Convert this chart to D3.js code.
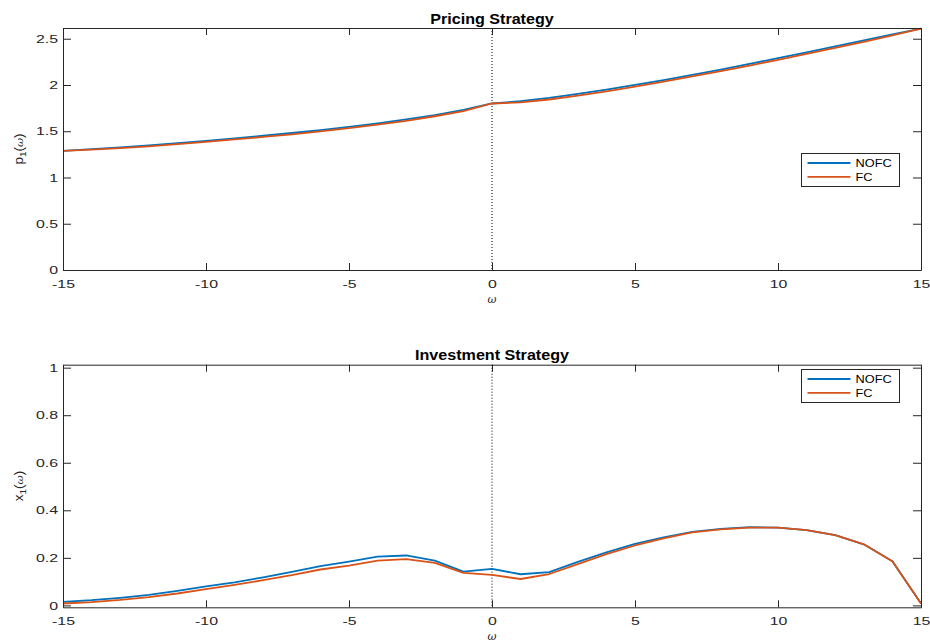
<!DOCTYPE html>
<html><head><meta charset="utf-8">
<script src="https://cdn.jsdelivr.net/npm/d3@7"></script>
<style>
body{margin:0;background:#fff;}
svg{display:block;font-family:"Liberation Sans",Arial,Helvetica,sans-serif;}
</style></head>
<body><svg id="c" width="930" height="644"></svg>
<script>
const omega = d3.range(-15, 16);
const priceNOFC = [1.288,1.306,1.325,1.346,1.370,1.396,1.423,1.451,1.481,1.513,1.548,1.586,1.628,1.675,1.730,1.800,1.825,1.860,1.903,1.950,2.000,2.053,2.109,2.167,2.227,2.290,2.353,2.417,2.481,2.546,2.610];
const priceFC   = [1.288,1.302,1.318,1.337,1.360,1.385,1.411,1.438,1.467,1.499,1.533,1.571,1.613,1.662,1.718,1.800,1.812,1.843,1.884,1.932,1.983,2.036,2.092,2.150,2.210,2.272,2.336,2.401,2.467,2.535,2.610];
const investNOFC = [0.015,0.022,0.032,0.044,0.061,0.080,0.097,0.118,0.141,0.165,0.184,0.205,0.210,0.188,0.142,0.154,0.131,0.140,0.183,0.223,0.259,0.286,0.309,0.322,0.329,0.327,0.317,0.296,0.257,0.186,0.008];
const investFC   = [0.008,0.014,0.023,0.035,0.050,0.068,0.086,0.106,0.127,0.151,0.167,0.188,0.195,0.179,0.137,0.128,0.111,0.132,0.174,0.216,0.252,0.282,0.307,0.320,0.327,0.327,0.317,0.296,0.257,0.186,0.008];
const xTicks = [-15,-10,-5,0,5,10,15];
const priceTicks = [0,0.5,1,1.5,2,2.5];
const investTicks = [0,0.2,0.4,0.6,0.8,1];
const seriesNames = ["NOFC","FC"];
const colors = ["#0072BD","#D95319"];

const svg = d3.select("#c");
const AX = "#262626";

function stretch(sel, f){
  sel.each(function(){
    const w = this.getComputedTextLength();
    d3.select(this).attr("textLength", w*f).attr("lengthAdjust","spacingAndGlyphs");
  });
}

function panel(cfg){
  const x = d3.scaleLinear().domain([-15,15]).range([63,921]);
  const y = d3.scaleLinear().domain(cfg.ydom).range([cfg.bottom, cfg.top]);
  const g = svg.append("g");
  g.append("line").attr("x1",x(0)).attr("x2",x(0)).attr("y1",cfg.top).attr("y2",cfg.bottom)
    .attr("stroke","#000").attr("stroke-width",1).attr("stroke-dasharray","1,2");
  const line = d3.line().x((d,i)=>x(omega[i])).y(d=>y(d));
  cfg.series.forEach((s,k)=>{
    g.append("path").datum(s).attr("d",line).attr("fill","none")
      .attr("stroke",colors[k]).attr("stroke-width",1.8).attr("stroke-linejoin","round");
  });
  const fmt = d=>String(d);
  const bottomAx = d3.axisBottom(x).tickValues(xTicks).tickSizeInner(-7).tickSizeOuter(0).tickPadding(10).tickFormat(fmt);
  const topAx = d3.axisTop(x).tickValues(xTicks).tickSizeInner(-7).tickSizeOuter(0).tickFormat("");
  const leftAx = d3.axisLeft(y).tickValues(cfg.yticks).tickSizeInner(-8).tickSizeOuter(0).tickPadding(5).tickFormat(fmt);
  const rightAx = d3.axisRight(y).tickValues(cfg.yticks).tickSizeInner(-8).tickSizeOuter(0).tickFormat("");
  [[bottomAx,`translate(0,${cfg.bottom})`],[topAx,`translate(0,${cfg.top})`],[leftAx,`translate(63,0)`],[rightAx,`translate(921,0)`]].forEach(([ax,t])=>{
    const a = g.append("g").attr("transform",t).call(ax);
    a.selectAll("path,line").attr("stroke",AX).attr("stroke-width",1);
    const tx = a.selectAll("text").attr("fill",AX).style("font-size","11.5px").attr("font-family",null);
    stretch(tx, 1.38);
  });
  const title = g.append("text").attr("x",492).attr("y",cfg.top-4.5).attr("text-anchor","middle")
    .style("font-size","14px").style("font-weight","bold").attr("fill","#000").text(cfg.title);
  stretch(title, 1.15);
  g.append("text").attr("x",492).attr("y",cfg.bottom+33).attr("text-anchor","middle")
    .style("font-size","11px").style("font-style","italic").attr("font-family","DejaVu Serif, serif").attr("fill",AX).text("ω");
  const yl = g.append("text").attr("transform",`translate(23,${(cfg.top+cfg.bottom)/2}) rotate(-90) scale(1.12,1)`)
    .attr("text-anchor","middle").attr("fill",AX).style("font-size","12px");
  yl.append("tspan").text(cfg.ylab);
  yl.append("tspan").attr("dy",3).style("font-size","9px").text("1");
  yl.append("tspan").attr("dy",-3).text("(");
  yl.append("tspan").style("font-style","italic").attr("font-family","DejaVu Serif, serif").style("font-size","10px").text("ω");
  yl.append("tspan").text(")");
  const L = cfg.legend;
  const lg = g.append("g");
  lg.append("rect").attr("x",L.x).attr("y",L.y).attr("width",98).attr("height",33)
    .attr("fill","#fff").attr("stroke",AX).attr("stroke-width",1);
  seriesNames.forEach((n,k)=>{
    const yy = L.y + 9.5 + k*13.8;
    lg.append("line").attr("x1",L.x+6).attr("x2",L.x+49).attr("y1",yy).attr("y2",yy)
      .attr("stroke",colors[k]).attr("stroke-width",1.8);
    const t = lg.append("text").attr("x",L.x+54).attr("y",yy+4).style("font-size","11px").attr("fill","#000").text(n);
    stretch(t, 1.16);
  });
}

panel({top:28,bottom:270,ydom:[0,2.616],yticks:priceTicks,series:[priceNOFC,priceFC],
  title:"Pricing Strategy",ylab:"p",legend:{x:801.5,y:153.5}});
panel({top:364.7,bottom:607.3,ydom:[-0.008,1.0125],yticks:investTicks,series:[investNOFC,investFC],
  title:"Investment Strategy",ylab:"x",legend:{x:801.5,y:369.5}});
</script></body></html>
